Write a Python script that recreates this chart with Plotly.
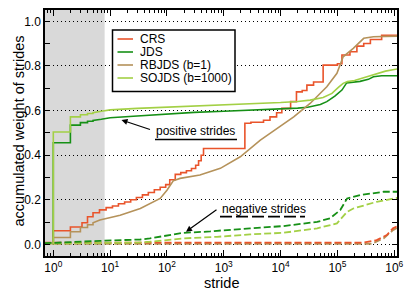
import plotly.graph_objects as go

# ---------------- data ----------------
crs_pos_x = [1, 1, 2, 3.2, 4, 5, 6.5, 8.5, 11, 14, 18, 23, 29, 37, 47, 60, 76, 95, 112, 140, 175,
             220, 270, 320, 360, 400, 440, 2350, 3000, 5000, 6500, 8500, 10500, 15000, 19000, 24000,
             29000, 38000, 56000, 100000, 120000, 166000, 220000, 290000, 380000, 600000, 1200000]
crs_pos_y = [0, 0.061, 0.078, 0.097, 0.124, 0.142, 0.155, 0.165, 0.172, 0.182, 0.19, 0.2, 0.21, 0.222,
             0.233, 0.245, 0.256, 0.268, 0.29, 0.314, 0.322, 0.33, 0.34, 0.355, 0.375, 0.40, 0.43, 0.543,
             0.548, 0.557, 0.572, 0.59, 0.61, 0.64, 0.684, 0.69, 0.714, 0.728, 0.804, 0.81, 0.849, 0.864,
             0.889, 0.901, 0.919, 0.938, 0.938]

jds_pos_x = [1, 1, 2, 2, 3, 3, 4, 4, 5, 5, 7, 10, 30, 100, 300, 1000, 3000, 10000, 20000, 30000,
             50000, 65000, 90000, 120000, 145000, 250000, 350000, 430000, 600000, 1200000]
jds_pos_y = [0, 0.456, 0.456, 0.535, 0.535, 0.546, 0.546, 0.552, 0.552, 0.556, 0.561, 0.568, 0.576,
             0.585, 0.592, 0.597, 0.601, 0.607, 0.611, 0.615, 0.627, 0.64, 0.665, 0.692, 0.724, 0.731,
             0.74, 0.752, 0.756, 0.756]

rbjds_pos_x = [1, 1, 2, 2, 3, 3, 4, 4, 5, 5, 6.6, 15, 34, 76, 100, 129, 170, 380, 870, 1950, 4400,
               8500, 17000, 33000, 65000, 98000, 126000, 190000, 290000, 430000, 1200000]
rbjds_pos_y = [0, 0.031, 0.031, 0.057, 0.057, 0.076, 0.076, 0.088, 0.088, 0.097, 0.109, 0.131, 0.161,
               0.206, 0.243, 0.285, 0.296, 0.311, 0.341, 0.393, 0.468, 0.52, 0.572, 0.632, 0.707,
               0.767, 0.841, 0.879, 0.924, 0.931, 0.934]

sojds_pos_x = [1, 1, 2, 2, 3, 3, 4, 4, 5, 5, 7, 10, 30, 100, 300, 1000, 3000, 10000, 20000, 33000,
               56000, 80000, 105000, 126000, 150000, 200000, 330000, 500000, 700000, 1200000]
sojds_pos_y = [0, 0.504, 0.504, 0.572, 0.572, 0.581, 0.581, 0.587, 0.587, 0.591, 0.597, 0.603, 0.61,
               0.615, 0.62, 0.626, 0.631, 0.636, 0.641, 0.647, 0.659, 0.677, 0.705, 0.722, 0.73, 0.735,
               0.752, 0.766, 0.777, 0.788]

jds_neg_x = [0.7, 1, 6.6, 34, 50, 112, 195, 575, 760, 2900, 11000, 44000, 74000, 112000, 148000,
             250000, 650000, 1200000]
jds_neg_y = [0.006, 0.007, 0.016, 0.022, 0.027, 0.04, 0.052, 0.058, 0.061, 0.072, 0.082, 0.101,
             0.117, 0.154, 0.206, 0.221, 0.236, 0.236]

sojds_neg_x = [0.7, 10, 30, 50, 112, 195, 760, 2900, 11000, 44000, 98000, 148000, 190000, 490000,
               1200000]
sojds_neg_y = [0.004, 0.005, 0.008, 0.012, 0.019, 0.027, 0.034, 0.045, 0.052, 0.072, 0.094, 0.146,
               0.161, 0.191, 0.21]

crs_neg_x = [0.7, 290000, 490000, 740000, 950000, 1200000]
crs_neg_y = [0.008, 0.008, 0.019, 0.042, 0.072, 0.085]

rbjds_neg_x = [0.7, 400000, 650000, 950000, 1200000]
rbjds_neg_y = [0.003, 0.003, 0.027, 0.064, 0.078]

series_names = ["CRS", "JDS", "RBJDS (b=1)", "SOJDS (b=1000)"]
x_tick_vals = [1, 10, 100, 1000, 10000, 100000, 1000000]
x_tick_text = ["10<sup>0</sup>", "10<sup>1</sup>", "10<sup>2</sup>", "10<sup>3</sup>",
               "10<sup>4</sup>", "10<sup>5</sup>", "10<sup>6</sup>"]
y_tick_vals = [0.0, 0.2, 0.4, 0.6, 0.8, 1.0]
shade_range = [0.7145, 8]

# ---------------- style ----------------
colors = {"CRS": "#e9542b", "JDS": "#169016", "RBJDS (b=1)": "#b5925a", "SOJDS (b=1000)": "#a3d045"}
FONT = "Liberation Sans, Arial, sans-serif"

fig = go.Figure()

pos = [(crs_pos_x, crs_pos_y, "CRS", "hv"),
       (jds_pos_x, jds_pos_y, "JDS", "linear"),
       (rbjds_pos_x, rbjds_pos_y, "RBJDS (b=1)", "linear"),
       (sojds_pos_x, sojds_pos_y, "SOJDS (b=1000)", "linear")]
neg = [(rbjds_neg_x, rbjds_neg_y, "RBJDS (b=1)"),
       (crs_neg_x, crs_neg_y, "CRS"),
       (sojds_neg_x, sojds_neg_y, "SOJDS (b=1000)"),
       (jds_neg_x, jds_neg_y, "JDS")]

for x, y, name, shape in pos:
    fig.add_trace(go.Scatter(x=x, y=y, mode="lines", name=name, showlegend=False,
                             line=dict(color=colors[name], width=1.6, shape=shape)))
for x, y, name in neg:
    fig.add_trace(go.Scatter(x=x, y=y, mode="lines", name=name + " neg", showlegend=False,
                             line=dict(color=colors[name], width=1.8, dash="7px,3px")))

# plot area pixels: left 45, right 397, top 10, bottom 256
W, H = 407, 292
L, R, T, B = 45, 397, 10, 256
def px(xp):
    return (xp - L) / (R - L)
def py(yp):
    return (B - yp) / (B - T)

shapes = [dict(type="rect", xref="x", yref="paper", x0=shade_range[0], x1=shade_range[1], y0=0, y1=1,
               fillcolor="#d9d9d9", line=dict(width=0), layer="below")]

# custom legend
shapes.append(dict(type="rect", xref="paper", yref="paper", x0=px(112.5), x1=px(235), y0=py(91.5),
                   y1=py(30), line=dict(color="black", width=1.5), fillcolor="white", layer="above"))
annotations = []
for i, name in enumerate(series_names):
    yc = 39 + 13 * i
    shapes.append(dict(type="line", xref="paper", yref="paper", x0=px(117.5), x1=px(133),
                       y0=py(yc), y1=py(yc), line=dict(color=colors[name], width=1.6)))
    annotations.append(dict(xref="paper", yref="paper", x=px(138), y=py(yc), text=name,
                            showarrow=False, xanchor="left", yanchor="middle",
                            font=dict(family=FONT, size=12, color="black")))

# annotation underlines
shapes.append(dict(type="line", xref="paper", yref="paper", x0=px(155), x1=px(237), y0=py(139.5),
                   y1=py(139.5), line=dict(color="black", width=1.3)))
shapes.append(dict(type="line", xref="paper", yref="paper", x0=px(220), x1=px(305), y0=py(216.7),
                   y1=py(216.7), line=dict(color="black", width=1.8, dash="12px,4px")))

annotations += [
    dict(xref="paper", yref="paper", x=px(154), y=py(131), text="positive strides", showarrow=False,
         xanchor="left", yanchor="middle", font=dict(family=FONT, size=12, color="black")),
    dict(xref="paper", yref="paper", x=px(220), y=py(209), text="negative strides", showarrow=False,
         xanchor="left", yanchor="middle", font=dict(family=FONT, size=12, color="black")),
    dict(xref="paper", yref="paper", x=px(121.5), y=py(120), ax=30, ay=10, text="", showarrow=True,
         arrowhead=2, arrowsize=1, arrowwidth=1.2, arrowcolor="black", standoff=0),
    dict(xref="paper", yref="paper", x=px(186), y=py(231.7), ax=32, ay=-23, text="", showarrow=True,
         arrowhead=2, arrowsize=1, arrowwidth=1.2, arrowcolor="black", standoff=0),
    # axis titles
    dict(xref="paper", yref="paper", x=px(221), y=py(283), text="stride", showarrow=False,
         xanchor="center", yanchor="middle", font=dict(family=FONT, size=14.5, color="black")),
    dict(xref="paper", yref="paper", x=px(18.5), y=py(131), text="accumulated weight of strides",
         showarrow=False, textangle=-90, xanchor="center", yanchor="middle",
         font=dict(family=FONT, size=14.5, color="black")),
]

fig.update_layout(
    width=W, height=H,
    margin=dict(l=L, r=W - R, t=T, b=H - B, pad=0),
    paper_bgcolor="white", plot_bgcolor="white",
    font=dict(family=FONT, size=11, color="black"),
    shapes=shapes, annotations=annotations, showlegend=False,
)
fig.update_xaxes(
    type="log", range=[-0.146, 6.048], tickvals=x_tick_vals, ticktext=x_tick_text,
    ticks="inside", ticklen=6, tickwidth=1, tickcolor="black",
    minor=dict(ticks="inside", ticklen=3, tickcolor="black", dtick="D1", showgrid=False),
    showline=True, linecolor="black", linewidth=1.5, mirror="ticks", showgrid=False, zeroline=False,
    tickfont=dict(size=12), automargin=False,
)
fig.update_yaxes(
    range=[-0.052, 1.051], tickvals=y_tick_vals, tickformat=".1f",
    ticks="inside", ticklen=5, tickwidth=1, tickcolor="black",
    minor=dict(ticks="inside", ticklen=5, tickcolor="black", dtick=0.1, showgrid=False),
    showline=True, linecolor="black", linewidth=1.5, mirror="ticks",
    showgrid=True, gridcolor="black", griddash="1.3px,2.7px", gridwidth=1, zeroline=False,
    tickfont=dict(size=12), automargin=False,
)

fig.write_html("out.html", config={"displayModeBar": False},
               post_script="document.body.style.margin='0';document.body.style.padding='0';")
